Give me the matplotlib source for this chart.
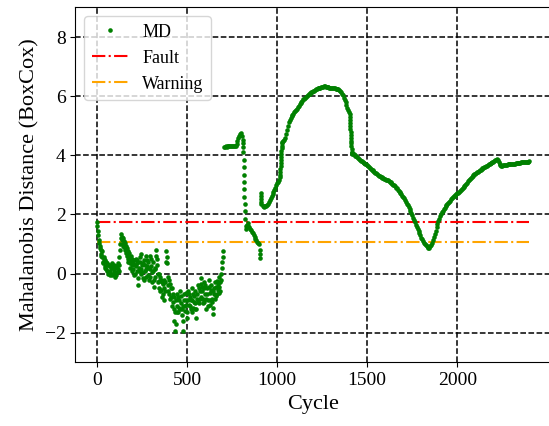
import numpy as np
import matplotlib
matplotlib.use("Agg")
import matplotlib.pyplot as plt

# ---------------- data ----------------
# noisy early phase, readings every 5 cycles (0..700)
cyc_early = list(range(0, 705, 5))
md_early = [1.75, 1.45, 1.15, 0.95, 0.8, 0.65, 0.55, 0.35, 0.5, 0.25,
            0.4, 0.1, 0.3, 0.05, 0.25, -0.05, 0.2, 0.35, 0.0, 0.15,
            -0.1, 0.25, 0.05, 0.35, 0.1, 0.55, 1.0, 1.35, 1.15, 0.95,
            1.1, 0.8, 0.95, 0.6, 0.75, 0.4, 0.55, 0.2, 0.45, 0.1,
            0.35, -0.05, 0.3, 0.5, 0.1, 0.35, -0.4, 0.2, 0.55, 0.0,
            0.3, -0.15, 0.45, 0.1, 0.6, -0.1, 0.25, 0.4, -0.2, 0.15,
            0.5, -0.3, 0.1, -0.45, 0.2, -0.1, 0.8, 0.3, -0.3, 0.0,
            -0.6, -0.2, -0.8, -0.35, -0.5, -0.9, -0.3, 0.75, 0.35, -0.6,
            -0.2, -0.85, -0.5, -1.1, -0.7, -1.2, -1.6, -1.95, -0.9, -1.3,
            -0.8, -1.15, -0.6, -1.0, -1.4, -1.95, -1.1, -0.7, -1.25, -0.9,
            -1.3, -0.6, -1.05, -0.8, -1.2, -0.5, -0.9, -1.15, -0.75, -1.0,
            -1.5, -0.85, -0.4, -1.0, -0.6, -0.15, -0.8, -0.45, -1.0, -0.3,
            -0.7, -1.2, -0.5, -0.9, -0.2, -0.65, -1.05, -0.4, -0.85, -1.35,
            -0.7, -0.3, -0.75, -0.25, -0.55, -0.1, -0.45, -0.6, 0.0, 0.4,
            0.75]
# the in-between readings of the same noisy phase (2..697)
cyc_early_b = list(range(2, 700, 5))
md_early_b = [1.6, 1.3, 1.05, 0.85, 0.6, 0.75, 0.4, 0.55, 0.2, 0.45,
              0.15, 0.35, 0.0, 0.3, 0.1, 0.3, -0.05, 0.2, 0.3, 0.05,
              0.2, -0.05, 0.25, 0.15, 0.3, 0.8, 1.2, 1.25, 1.0, 1.2,
              0.9, 1.05, 0.7, 0.85, 0.5, 0.7, 0.35, 0.6, 0.3, 0.5,
              0.15, 0.45, 0.0, 0.25, 0.45, -0.15, 0.1, 0.4, 0.15, 0.65,
              0.05, 0.35, -0.2, 0.3, 0.15, 0.45, -0.05, 0.2, 0.6, -0.1,
              0.25, 0.05, 0.4, -0.2, 0.15, 0.6, 0.5, 0.0, -0.5, -0.25,
              -0.1, -0.55, -0.3, -0.7, -0.2, -0.6, 0.4, 0.55, -0.1, -0.4,
              -0.7, -0.35, -0.8, -0.5, -0.95, -0.8, -1.3, -1.7, -1.1, -0.7,
              -1.3, -0.9, -1.2, -0.75, -1.2, -1.6, -0.9, -1.1, -0.65, -1.05,
              -1.5, -0.9, -0.7, -1.1, -0.9, -1.3, -0.7, -0.95, -1.2, -0.6,
              -1.2, -0.7, -0.95, -0.5, -0.85, -0.35, -0.6, -0.85, -0.5, -0.95,
              -0.4, -0.85, -0.7, -1.1, -0.45, -0.9, -0.55, -0.95, -0.6, -1.15,
              -0.5, -0.85, -0.45, -0.7, -0.35, -0.65, -0.3, -0.2, 0.2, 0.55]

# plateau, spike and sudden drop (705..912)
cyc_mid = [705, 710, 715, 720, 725, 730, 735, 740, 745, 750, 755, 760, 765,
           770, 775, 780, 785, 790, 795, 800, 805, 808, 810, 812,
           813, 814, 815, 816, 817, 818, 819, 820, 821, 822,
           825, 828, 832, 836, 840, 845, 850, 855, 860, 865, 870, 875, 880,
           885, 890, 895, 900, 903, 905, 907,
           908, 909, 910, 911, 912]
md_mid = [4.28, 4.29, 4.3, 4.29, 4.3, 4.3, 4.31, 4.3, 4.3, 4.31, 4.3, 4.31, 4.32,
          4.33, 4.38, 4.48, 4.58, 4.66, 4.72, 4.74, 4.66, 4.52, 4.4, 4.28,
          4.1, 3.85, 3.6, 3.35, 3.1, 2.85, 2.6, 2.35, 2.1, 1.85,
          1.6, 1.5, 1.65, 1.72, 1.62, 1.56, 1.52, 1.47, 1.42, 1.36, 1.3, 1.24, 1.18,
          1.12, 1.08, 1.04, 1.0, 0.8, 0.66, 0.52,
          2.72, 2.62, 2.52, 2.42, 2.34]

# smooth late phase (920..2400)
cyc_late = (list(range(920, 1016, 5))
            + [1016, 1017, 1018, 1019, 1020, 1021, 1022, 1023, 1024, 1025, 1026, 1028]
            + list(range(1030, 1401, 5))
            + [1402, 1403, 1404, 1405, 1406, 1407, 1408, 1409, 1410, 1411, 1412,
               1413, 1414, 1415, 1416, 1417, 1418]
            + list(range(1420, 2401, 5)))
md_late = [2.3, 2.27, 2.26, 2.28, 2.3, 2.33, 2.37, 2.43, 2.5, 2.57,
           2.63, 2.7, 2.77, 2.84, 2.91, 2.98, 3.05, 3.11, 3.18, 3.27,
           3.35, 3.45, 3.55, 3.65, 3.75, 3.85, 3.95, 4.05, 4.15, 4.25, 4.33, 4.4,
           4.44, 4.48, 4.52, 4.6, 4.72, 4.86, 5.0, 5.12, 5.2, 5.27,
           5.32, 5.36, 5.41, 5.45, 5.49, 5.53, 5.57, 5.62, 5.67, 5.72,
           5.77, 5.81, 5.85, 5.89, 5.92, 5.95, 5.98, 6.01, 6.04, 6.07,
           6.09, 6.11, 6.13, 6.15, 6.17, 6.19, 6.21, 6.23, 6.24, 6.26,
           6.27, 6.28, 6.29, 6.3, 6.31, 6.32, 6.33, 6.33, 6.32, 6.31,
           6.3, 6.3, 6.29, 6.29, 6.28, 6.28, 6.27, 6.27, 6.26, 6.25,
           6.25, 6.24, 6.23, 6.21, 6.18, 6.14, 6.09, 6.03, 5.95, 5.88,
           5.8, 5.7, 5.6, 5.52, 5.45,
           5.4, 5.3, 5.2, 5.1, 5.0, 4.9, 4.8, 4.7, 4.6, 4.5, 4.4,
           4.3, 4.2, 4.12, 4.09, 4.07, 4.06,
           4.05, 4.03, 4.01, 3.99, 3.97, 3.94, 3.91, 3.88, 3.85, 3.82,
           3.8, 3.77, 3.75, 3.73, 3.71, 3.69, 3.67, 3.64, 3.61, 3.58,
           3.55, 3.52, 3.49, 3.46, 3.43, 3.41, 3.39, 3.36, 3.34, 3.31,
           3.29, 3.27, 3.25, 3.24, 3.22, 3.21, 3.2, 3.18, 3.16, 3.15,
           3.13, 3.11, 3.09, 3.07, 3.04, 3.01, 2.98, 2.95, 2.91, 2.88,
           2.84, 2.8, 2.76, 2.72, 2.68, 2.64, 2.6, 2.55, 2.49, 2.43,
           2.37, 2.31, 2.25, 2.18, 2.11, 2.04, 1.97, 1.89, 1.81, 1.73,
           1.65, 1.57, 1.5, 1.43, 1.36, 1.29, 1.22, 1.16, 1.1, 1.05,
           1.0, 0.96, 0.92, 0.89, 0.87, 0.88, 0.92, 0.98, 1.05, 1.14,
           1.24, 1.34, 1.45, 1.56, 1.67, 1.77, 1.86, 1.94, 2.01, 2.07,
           2.13, 2.18, 2.23, 2.27, 2.31, 2.35, 2.39, 2.43, 2.47, 2.51,
           2.54, 2.58, 2.61, 2.64, 2.66, 2.69, 2.71, 2.73, 2.76, 2.79,
           2.82, 2.85, 2.88, 2.92, 2.96, 3.0, 3.04, 3.08, 3.12, 3.16,
           3.2, 3.24, 3.27, 3.3, 3.33, 3.36, 3.38, 3.4, 3.42, 3.45,
           3.47, 3.5, 3.52, 3.54, 3.56, 3.58, 3.6, 3.62, 3.63, 3.65,
           3.67, 3.69, 3.71, 3.73, 3.75, 3.77, 3.79, 3.81, 3.83, 3.85,
           3.86, 3.83, 3.77, 3.71, 3.67, 3.65, 3.65, 3.66, 3.67, 3.67,
           3.68, 3.68, 3.69, 3.69, 3.7, 3.7, 3.71, 3.71, 3.72, 3.72,
           3.72, 3.73, 3.73, 3.74, 3.74, 3.75, 3.75, 3.76, 3.76, 3.76,
           3.77, 3.77, 3.78, 3.78, 3.79, 3.79, 3.8]

fault_level = 1.74
warning_level = 1.08
threshold_span = [0, 2400]

# ---------------- plot ----------------
plt.rcParams['font.family'] = ['Liberation Serif', 'Tinos', 'Times New Roman',
                               'Nimbus Roman', 'STIXGeneral', 'DejaVu Serif']
plt.rcParams['mathtext.fontset'] = 'stix'

cycles = np.concatenate([cyc_early, cyc_early_b, cyc_mid, cyc_late])
md = np.concatenate([md_early, md_early_b, md_mid, md_late])
order = np.argsort(cycles, kind='stable')
cycles, md = cycles[order], md[order]

fig = plt.figure(figsize=(5.49, 4.26), dpi=100)
ax = fig.add_axes([0.1372, 0.1495, 0.8663, 0.8330])

ax.plot(cycles, md, linestyle='none', marker='o', markersize=3.3,
        markeredgewidth=0, color='green', label='MD', zorder=3)
ax.plot(threshold_span, [fault_level, fault_level], linestyle='-.',
        color='red', linewidth=1.5, label='Fault', zorder=2)
ax.plot(threshold_span, [warning_level, warning_level], linestyle='-.',
        color='orange', linewidth=1.5, label='Warning', zorder=2)

ax.set_xlim(-120, 2520)
ax.set_ylim(-3, 9)
ax.set_xticks([0, 500, 1000, 1500, 2000])
ax.set_yticks([-2, 0, 2, 4, 6, 8])
ax.grid(True, linestyle='--', color='black', linewidth=1.1)
ax.tick_params(labelsize=14)
ax.set_xlabel('Cycle', fontsize=16)
ax.set_ylabel('Mahalanobis Distance (BoxCox)', fontsize=16)
ax.legend(loc='upper left', fontsize=13)

fig.savefig('out.png', dpi=100)
